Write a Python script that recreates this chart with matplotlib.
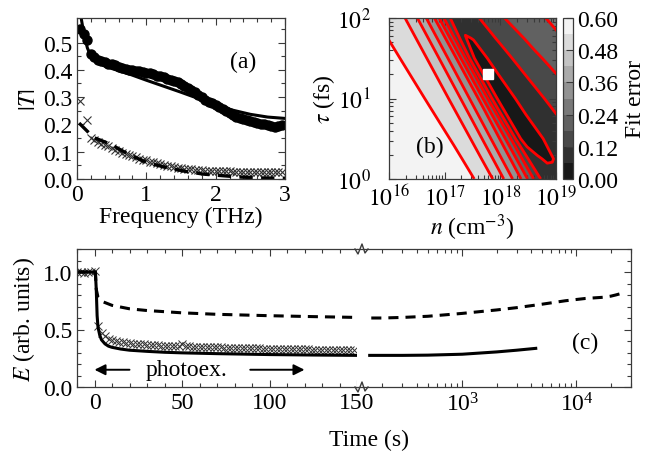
import numpy as np
import matplotlib
matplotlib.use("Agg")
import matplotlib.pyplot as plt
from matplotlib.lines import Line2D
from matplotlib.ticker import MultipleLocator, FixedLocator, LogLocator, NullFormatter

plt.rcParams['font.family'] = ['Liberation Serif', 'DejaVu Serif']
plt.rcParams['mathtext.fontset'] = 'stix'
plt.rcParams['font.size'] = 17
plt.rcParams['axes.edgecolor'] = '#3a3a3a'
plt.rcParams['axes.linewidth'] = 0.9
plt.rcParams['xtick.color'] = '#3a3a3a'
plt.rcParams['ytick.color'] = '#3a3a3a'
plt.rcParams['xtick.labelcolor'] = 'black'
plt.rcParams['ytick.labelcolor'] = 'black'

# ---------------- (a) |T| spectra ----------------
freq = np.round(np.arange(0.05, 3.0, 0.05), 2)   # sampling of the measured points
T_dark = [0.55, 0.53, 0.51, 0.458, 0.447, 0.437, 0.431, 0.427, 0.423, 0.42,
          0.416, 0.412, 0.407, 0.403, 0.40, 0.398, 0.396, 0.394, 0.392, 0.39,
          0.387, 0.383, 0.379, 0.376, 0.372, 0.368, 0.364, 0.359, 0.354, 0.348,
          0.341, 0.334, 0.326, 0.317, 0.308, 0.299, 0.291, 0.284, 0.277, 0.27,
          0.263, 0.256, 0.249, 0.242, 0.235, 0.229, 0.224, 0.219, 0.215, 0.212,
          0.209, 0.206, 0.203, 0.20, 0.197, 0.194, 0.192, 0.194, 0.197]
T_photo = [0.285, np.nan, 0.215, 0.15, 0.142, 0.135, 0.13, 0.125, 0.12, 0.114,
           0.108, 0.102, 0.097, 0.092, 0.087, 0.083, 0.079, 0.075, 0.071, 0.068,
           0.064, 0.061, 0.058, 0.055, 0.052, 0.049, 0.047, 0.045, 0.042, 0.04,
           0.038, 0.036, 0.035, 0.034, 0.033, 0.032, 0.031, 0.03, 0.03, 0.029,
           0.029, 0.028, 0.028, 0.028, 0.027, 0.027, 0.027, 0.027, 0.026, 0.026,
           0.026, 0.026, 0.026, 0.026, 0.026, 0.026, 0.026, 0.026, 0.026]
freq_fit_dark = [0.03, 0.06, 0.1, 0.15, 0.2, 0.3, 0.5, 0.75, 1.0, 1.25, 1.5,
                 1.75, 2.0, 2.25, 2.5, 2.75, 3.0]
T_dark_fit = [0.62, 0.59, 0.53, 0.48, 0.45, 0.425, 0.405, 0.385, 0.362, 0.34,
              0.318, 0.295, 0.272, 0.252, 0.237, 0.227, 0.222]
freq_fit_photo = [0.03, 0.24, 0.48, 0.74, 1.0, 1.27, 1.56, 1.82, 2.1, 2.36, 2.65, 3.0]
T_photo_fit = [0.205, 0.152, 0.128, 0.091, 0.061, 0.043, 0.028, 0.018, 0.012,
               0.007, 0.004, 0.003]

# ---------------- (b) fit error map ----------------
# rows: log10(tau/fs); columns: u = log10(n) + 0.8*log10(tau) (grid follows the valley)
logtau_rows = [0.0, 0.25, 0.5, 1.0, 1.5, 1.75, 2.0]
u_cols = [16.0, 16.8, 17.2, 17.5, 17.8, 18.0, 18.2, 18.4, 18.6, 18.7, 18.8,
          18.9, 19.0, 19.1, 19.2, 19.35, 19.5, 19.7, 19.9, 20.1, 20.4, 20.7]
fit_err = [
    [0.59, 0.59, 0.581, 0.545, 0.497, 0.443, 0.368, 0.289, 0.18, 0.125, 0.105,
     0.09, 0.082, 0.085, 0.088, 0.094, 0.10, 0.11, 0.119, 0.133, 0.155, 0.175],
    [0.59, 0.59, 0.578, 0.542, 0.496, 0.445, 0.37, 0.292, 0.175, 0.12, 0.09,
     0.066, 0.054, 0.055, 0.064, 0.077, 0.09, 0.108, 0.125, 0.14, 0.163, 0.186],
    [0.59, 0.59, 0.575, 0.539, 0.496, 0.447, 0.372, 0.295, 0.173, 0.10, 0.04,
     0.03, 0.03, 0.048, 0.065, 0.08, 0.095, 0.115, 0.132, 0.149, 0.173, 0.199],
    [0.59, 0.59, 0.569, 0.533, 0.495, 0.452, 0.377, 0.302, 0.16, 0.08, 0.035,
     0.022, 0.042, 0.068, 0.08, 0.095, 0.11, 0.132, 0.152, 0.17, 0.196, 0.22],
    [0.59, 0.59, 0.563, 0.528, 0.495, 0.457, 0.382, 0.307, 0.16, 0.075, 0.032,
     0.04, 0.07, 0.088, 0.098, 0.113, 0.13, 0.152, 0.175, 0.194, 0.218, 0.243],
    [0.59, 0.59, 0.56, 0.526, 0.495, 0.459, 0.384, 0.309, 0.165, 0.10, 0.055,
     0.062, 0.08, 0.095, 0.108, 0.124, 0.141, 0.166, 0.189, 0.207, 0.23, 0.253],
    [0.59, 0.59, 0.557, 0.524, 0.495, 0.461, 0.386, 0.311, 0.17, 0.12, 0.09,
     0.088, 0.095, 0.105, 0.117, 0.137, 0.157, 0.183, 0.201, 0.215, 0.239, 0.258],
]
n_best = 6e17
tau_best = 20.0

# ---------------- (c) field amplitude vs time ----------------
t_cross = np.arange(-10, 150, 2)
E_cross = [1.0, 1.0, 0.99, 1.0, 1.0, 1.01,
           0.53, 0.47, 0.44, 0.42, 0.41, 0.40, 0.395, 0.39, 0.385, 0.38,
           0.377, 0.374, 0.372, 0.37, 0.368, 0.366, 0.364, 0.362, 0.36, 0.359,
           0.358, 0.357, 0.356, 0.355, 0.375, 0.354, 0.353, 0.352, 0.351, 0.35,
           0.349, 0.348, 0.347, 0.346, 0.345, 0.344, 0.343, 0.342, 0.341, 0.34,
           0.339, 0.338, 0.337, 0.337, 0.336, 0.335, 0.335, 0.334, 0.333, 0.333,
           0.332, 0.331, 0.331, 0.33, 0.33, 0.329, 0.329, 0.328, 0.328, 0.327,
           0.327, 0.326, 0.326, 0.325, 0.325, 0.325, 0.324, 0.324, 0.324, 0.323,
           0.323, 0.323, 0.322, 0.322]
t_solid = [-10, 0.5, 1.0, 1.5, 2, 3, 4, 6, 8, 10, 15, 20, 30, 40, 50, 70, 100, 125, 150]
E_solid = [1.0, 1.0, 0.85, 0.62, 0.52, 0.45, 0.41, 0.375, 0.355, 0.345, 0.33,
           0.32, 0.31, 0.302, 0.297, 0.29, 0.282, 0.278, 0.275]
t_dash = [-10, 0.5, 1, 2, 5, 10, 20, 30, 50, 70, 100, 125, 150]
E_dash = [1.0, 1.0, 0.85, 0.78, 0.74, 0.71, 0.68, 0.665, 0.645, 0.632, 0.62, 0.612, 0.605]
t_solid_long = [155, 200, 300, 500, 1000, 2000, 3000, 4400]
E_solid_long = [0.275, 0.275, 0.275, 0.277, 0.285, 0.305, 0.32, 0.336]
t_dash_long = [160, 200, 300, 500, 1000, 2000, 3000, 5000, 8000, 12000, 17000, 20000, 22000, 25000]
E_dash_long = [0.60, 0.60, 0.605, 0.615, 0.64, 0.67, 0.69, 0.72, 0.75, 0.77, 0.78,
               0.79, 0.80, 0.815]

W, H = 649, 452
fig = plt.figure(figsize=(W / 100, H / 100), dpi=100)


def box(l, t, r, b):
    return [l / W, 1 - b / H, (r - l) / W, (b - t) / H]


def ticks_in(ax, **kw):
    ax.tick_params(which='both', direction='in', **kw)
    ax.tick_params(which='major', length=5, width=0.8)
    ax.tick_params(which='minor', length=2.6, width=0.8)


# (a)
ax_a = fig.add_axes(box(77, 19, 285, 180))
ax_a.plot(freq, T_photo, 'x', color='#333333', ms=6, mew=0.8)
ax_a.plot(freq_fit_photo, T_photo_fit, color='black', lw=2.4, dashes=(4, 2.5))
ax_a.plot(freq, T_dark, 'o', color='black', ms=6.5)
ax_a.plot(freq_fit_dark, T_dark_fit, color='black', lw=2.2)
ax_a.set_xlim(0, 3)
ax_a.set_ylim(0, 0.59)
ax_a.set_xticks([0, 1, 2, 3], ['0', '1', '2', '3'])
ax_a.set_yticks([0, 0.1, 0.2, 0.3, 0.4, 0.5], ['0.0', '0.1', '0.2', '0.3', '0.4', '0.5'])
ax_a.xaxis.set_minor_locator(MultipleLocator(0.2))
ax_a.yaxis.set_minor_locator(MultipleLocator(0.05))
ticks_in(ax_a, top=True, right=True)
ax_a.set_xlabel('Frequency (THz)', labelpad=1)
ax_a.set_ylabel(r'$|T|$', labelpad=2)
ax_a.text(2.4, 0.43, '(a)', ha='center', va='center')

# (b)
ax_b = fig.add_axes(box(389, 19, 556, 180))
lt = np.array(logtau_rows)[:, None]
X = np.array(u_cols)[None, :] - 0.8 * lt
Y = np.repeat(lt, len(u_cols), axis=1)
Z = np.array(fit_err)
cf = ax_b.contourf(X, Y, Z, levels=np.linspace(0, 0.6, 11), cmap='gray', vmin=-0.03, vmax=0.6)
ax_b.contour(X, Y, Z, levels=np.linspace(0.06, 0.54, 9), colors='red', linewidths=2.0)
ax_b.plot(np.log10(n_best), np.log10(tau_best), 's', color='white', ms=7.5)
ax_b.set_xlim(16, 19)
ax_b.set_ylim(0, 2)
ax_b.set_xticks([16, 17, 18, 19], [r'$10^{16}$', r'$10^{17}$', r'$10^{18}$', r'$10^{19}$'])
ax_b.set_yticks([0, 1, 2], [r'$10^0$', r'$10^1$', r'$10^2$'])
minor_x = [m + np.log10(k) for m in range(16, 19) for k in range(2, 10)]
minor_y = [m + np.log10(k) for m in range(0, 2) for k in range(2, 10)]
ax_b.xaxis.set_minor_locator(FixedLocator(minor_x))
ax_b.yaxis.set_minor_locator(FixedLocator(minor_y))
ticks_in(ax_b, top=True, right=True)
ax_b.tick_params(axis='x', pad=4)
ax_b.tick_params(axis='y', pad=13)
ax_b.set_xlabel(r'$n$ (cm$^{-3}$)', labelpad=1)
ax_b.set_ylabel(r'$\tau$ (fs)', labelpad=0)
ax_b.text(16.74, 0.41, '(b)', ha='center', va='center')

cax = fig.add_axes(box(563, 19, 573, 180))
cb = fig.colorbar(cf, cax=cax, ticks=[0, 0.12, 0.24, 0.36, 0.48, 0.6])
cb.ax.set_yticklabels(['0.00', '0.12', '0.24', '0.36', '0.48', '0.60'])
cb.ax.tick_params(direction='in', length=5, width=0.8, pad=3)
cb.outline.set_edgecolor('#3a3a3a')
cb.set_label('Fit error', labelpad=5)

# (c) broken time axis
ax_c1 = fig.add_axes(box(77, 250, 357, 388))
ax_c2 = fig.add_axes(box(357, 250, 631, 388))
ax_c1.plot(t_cross, E_cross, 'x', color='#333333', ms=6, mew=0.7)
ax_c1.plot(t_solid, E_solid, color='black', lw=2.2)
ax_c1.plot(t_dash, E_dash, color='black', lw=2.2, dashes=(3.3, 2.3))
ax_c2.plot(t_solid_long, E_solid_long, color='black', lw=2.2)
ax_c2.plot(t_dash_long, E_dash_long, color='black', lw=2.2, dashes=(3.3, 2.3))

ax_c1.set_xlim(-10, 150)
ax_c1.set_ylim(0, 1.2)
ax_c1.set_xticks([0, 50, 100, 150])
ax_c1.xaxis.set_minor_locator(MultipleLocator(10))
ax_c1.set_yticks([0, 0.5, 1.0], ['0.0', '0.5', '1.0'])
ax_c1.yaxis.set_minor_locator(MultipleLocator(0.1))
ax_c1.spines['right'].set_visible(False)
ticks_in(ax_c1, top=True, right=False)
ax_c1.set_ylabel(r'$E$ (arb. units)', labelpad=4)

ax_c2.set_xscale('log')
ax_c2.set_xlim(120, 3e4)
ax_c2.set_ylim(0, 1.2)
ax_c2.xaxis.set_major_locator(FixedLocator([1e3, 1e4]))
ax_c2.xaxis.set_minor_locator(LogLocator(base=10, subs=np.arange(2, 10), numticks=20))
ax_c2.xaxis.set_minor_formatter(NullFormatter())
ax_c2.yaxis.set_major_locator(MultipleLocator(0.5))
ax_c2.yaxis.set_minor_locator(MultipleLocator(0.1))
ax_c2.spines['left'].set_visible(False)
ticks_in(ax_c2, top=True, right=True, left=False, labelleft=False)
ax_c2.text(1.2e4, 0.39, '(c)', ha='center', va='center')

# photoexcitation interval
arrow = dict(arrowstyle='-|>', color='black', lw=1.4, mutation_scale=16, shrinkA=0, shrinkB=0)
ax_c1.annotate('', xy=(0, 0.15), xytext=(20, 0.15), arrowprops=arrow)
ax_c1.annotate('', xy=(120, 0.15), xytext=(89, 0.15), arrowprops=arrow)
ax_c1.text(29, 0.155, 'photoex.', ha='left', va='center')

fig.text(369 / W, 1 - 440 / H, 'Time (s)', ha='center', va='center')

# axis-break marks
for y0 in (250, 388):
    xs = [355, 358, 362, 365, 368]
    ys = [y0, y0 + 5, y0 - 5, y0 + 4, y0]
    fig.add_artist(Line2D([x / W for x in xs], [1 - y / H for y in ys],
                          color='#3a3a3a', lw=1.0, transform=fig.transFigure))

fig.savefig('out.png', dpi=100)
